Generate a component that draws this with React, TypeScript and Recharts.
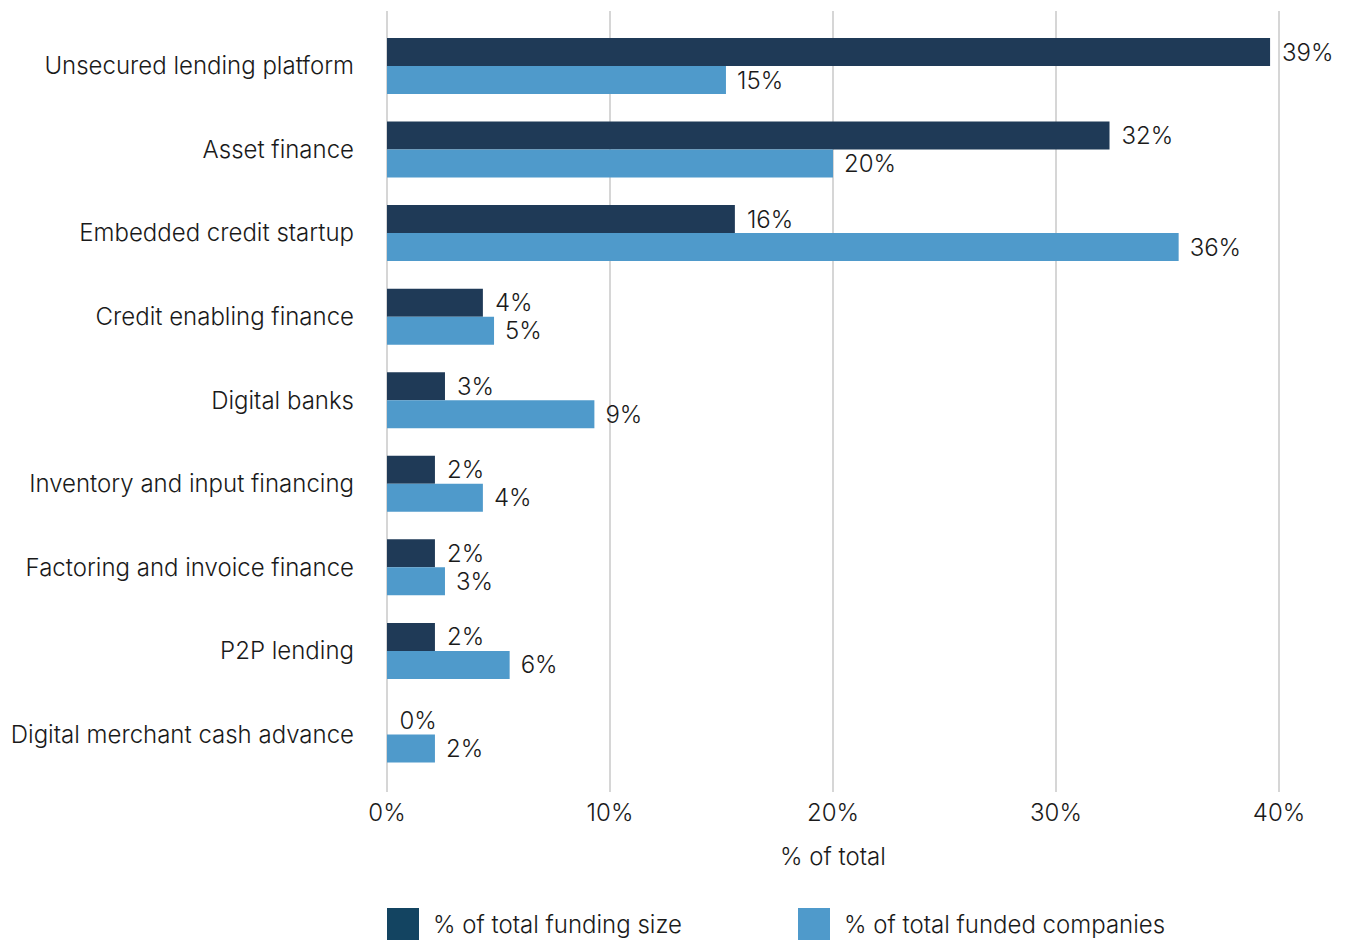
import React from 'react';
import { BarChart, Bar, XAxis, YAxis, CartesianGrid, Legend, LabelList, Label, Cell } from 'recharts';

document.body.style.margin = '0';

const categories = [
  'Unsecured lending platform',
  'Asset finance',
  'Embedded credit startup',
  'Credit enabling finance',
  'Digital banks',
  'Inventory and input financing',
  'Factoring and invoice finance',
  'P2P lending',
  'Digital merchant cash advance',
];

// % of total funding size (bar lengths)
const fundingSize = [39.6, 32.4, 15.6, 4.3, 2.6, 2.15, 2.15, 2.15, 0];
const fundingSizeLabels = ['39%', '32%', '16%', '4%', '3%', '2%', '2%', '2%', '0%'];

// % of total funded companies
const fundedCompanies = [15.2, 20.0, 35.5, 4.8, 9.3, 4.3, 2.6, 5.5, 2.15];
const fundedCompaniesLabels = ['15%', '20%', '36%', '5%', '9%', '4%', '3%', '6%', '2%'];

const xTicks = [0, 10, 20, 30, 40];

const DARK = '#1f3a57';
const DARK_LEGEND = '#134461';
const LIGHT = '#4f9acb';
const TEXT = '#1a1a1a';
const FONT = 'Inter, "Noto Sans", sans-serif';
const textStyle = { fill: TEXT, fontSize: 24, fontFamily: FONT, fontWeight: 300 };

const data = categories.map((name, i) => ({
  name,
  size: fundingSize[i],
  sizeLabel: fundingSizeLabels[i],
  companies: fundedCompanies[i],
  companiesLabel: fundedCompaniesLabels[i],
}));

const legendItems = [
  { label: '% of total funding size', color: DARK_LEGEND, left: 387 },
  { label: '% of total funded companies', color: LIGHT, left: 798 },
];

const CustomLegend = () => (
  <div style={{ position: 'relative', height: 32, width: 1279, fontFamily: FONT }}>
    {legendItems.map((item) => (
      <div
        key={item.label}
        style={{ position: 'absolute', left: item.left, top: 0, display: 'flex', alignItems: 'center', height: 32 }}
      >
        <span style={{ display: 'inline-block', width: 32, height: 32, background: item.color }} />
        <span style={{ marginLeft: 14, fontSize: 24, fontWeight: 300, color: TEXT, whiteSpace: 'nowrap' }}>
          {item.label}
        </span>
      </div>
    ))}
  </div>
);

export default function App() {
  return (
    <div style={{ width: 1349, height: 941, background: '#fff' }}>
      <BarChart
        width={1349}
        height={941}
        data={data}
        layout="vertical"
        barSize={28}
        barGap={0}
        margin={{ top: 11, right: 70, left: 0, bottom: 1 }}
      >
        <CartesianGrid horizontal={false} stroke="#c8c8c8" strokeWidth={1.5} />
        <XAxis
          type="number"
          domain={[0, 40]}
          ticks={xTicks}
          tickFormatter={(v) => `${v}%`}
          axisLine={false}
          tickLine={false}
          tickSize={0}
          tickMargin={12}
          height={116}
          tick={textStyle}
        >
          <Label value="% of total" position="insideBottom" offset={43} style={textStyle} />
        </XAxis>
        <YAxis
          type="category"
          dataKey="name"
          width={387}
          axisLine={false}
          tickLine={false}
          tickSize={0}
          tickMargin={33}
          padding={{ top: 13, bottom: 16 }}
          interval={0}
          tick={textStyle}
        />
        <Legend verticalAlign="bottom" content={<CustomLegend />} />
        <Bar dataKey="size" name="% of total funding size" fill={DARK} minPointSize={0.5} isAnimationActive={false}>
          {data.map((d) => (
            <Cell key={d.name} fill={d.size === 0 ? 'none' : DARK} />
          ))}
          <LabelList dataKey="sizeLabel" position="right" offset={12} style={textStyle} />
        </Bar>
        <Bar dataKey="companies" name="% of total funded companies" fill={LIGHT} isAnimationActive={false}>
          <LabelList dataKey="companiesLabel" position="right" offset={11} style={textStyle} />
        </Bar>
      </BarChart>
    </div>
  );
}
